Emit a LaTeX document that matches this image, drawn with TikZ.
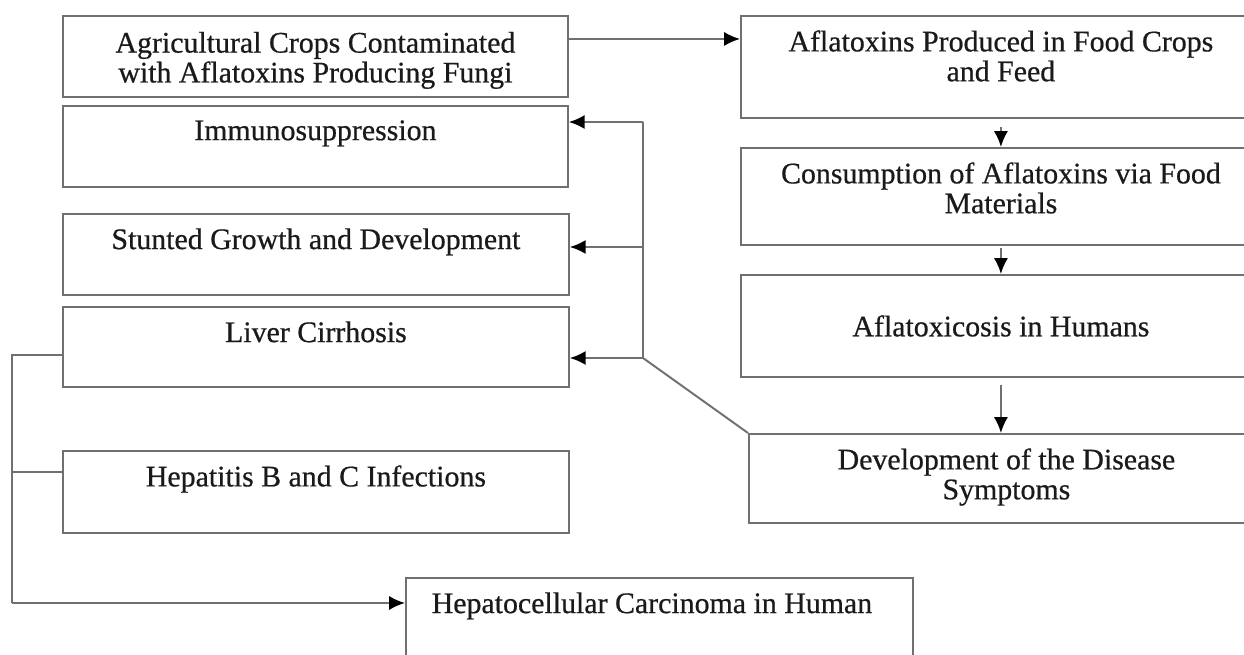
\documentclass[tikz,border=0pt]{standalone}
\usepackage{fontspec}
\setmainfont{Liberation Serif}
\newfontfamily\boxfont{Liberation Serif}[FakeBold=0.6]
\usetikzlibrary{positioning,arrows.meta}
\definecolor{edgegray}{HTML}{707070}
\definecolor{inkgray}{HTML}{1A1A1A}
\tikzset{
  box/.style={draw=edgegray, line width=1.1pt, anchor=north west, inner sep=0pt},
  txt/.style={text=inkgray, align=center, inner sep=0pt, font=\boxfont\fontsize{17}{17}\selectfont},
  link/.style={draw=edgegray, line width=1.1pt},
}
\begin{document}
\begin{tikzpicture}[x=0.02cm, y=-0.02cm, >={Latex[length=9pt,width=8pt,color=black]}]
  \useasboundingbox (0,0) rectangle (1244,655);
  \clip (0,0) rectangle (1244,655);

  % left column
  \node[box, minimum width=10.1cm, minimum height=1.62cm] (agri) at (62,15) {};
  \node[txt, below=0.33cm of agri.north] (agriT) {Agricultural Crops Contaminated\\with Aflatoxins Producing Fungi};
  \node[box, minimum width=10.1cm, minimum height=1.62cm] (immuno) at (62,105) {};
  \node[txt, below=0.3cm of immuno.north] (immunoT) {Immunosuppression};
  \node[box, minimum width=10.12cm, minimum height=1.62cm] (stunted) at (62,213) {};
  \node[txt, below=0.3cm of stunted.north] (stuntedT) {Stunted Growth and Development};
  \node[box, minimum width=10.12cm, minimum height=1.6cm] (liver) at (62,306) {};
  \node[txt, below=0.3cm of liver.north] (liverT) {Liver Cirrhosis};
  \node[box, minimum width=10.12cm, minimum height=1.64cm] (hepat) at (62,450) {};
  \node[txt, below=0.3cm of hepat.north] (hepatT) {Hepatitis B and C Infections};
  \node[box, minimum width=10.14cm, minimum height=2cm] (hcc) at (405,577) {};
  \node[txt, below=0.3cm of hcc.north, xshift=-0.15cm] (hccT) {Hepatocellular Carcinoma in Human};

  % right column
  \node[box, minimum width=10.4cm, minimum height=2.04cm] (produced) at (740,15) {};
  \node[txt, below=0.3cm of produced.north] (producedT) {Aflatoxins Produced in Food Crops\\and Feed};
  \node[box, minimum width=10.4cm, minimum height=1.94cm] (consum) at (740,147) {};
  \node[txt, below=0.3cm of consum.north] (consumT) {Consumption of Aflatoxins via Food\\Materials};
  \node[box, minimum width=10.4cm, minimum height=2.04cm] (toxicosis) at (740,274) {};
  \node[txt] (toxicosisT) at (toxicosis.center) {Aflatoxicosis in Humans};
  \node[box, minimum width=10.3cm, minimum height=1.78cm] (devel) at (748,433) {};
  \node[txt, below=0.3cm of devel.north] (develT) {Development of the Disease\\Symptoms};

  % main chain
  \draw[link,->] ([yshift=0.35cm]agri.east) -- ([yshift=0.35cm]agri.east -| produced.west);
  \draw[link,->] ([yshift=-0.16cm]produced.south) -- (consum.north);
  \draw[link,->] ([yshift=-0.04cm]consum.south) -- (toxicosis.north);
  \draw[link,->] ([yshift=-0.14cm]toxicosis.south) -- (devel.north -| toxicosis.south);

  % symptoms branch
  \coordinate (hub) at (643,358);
  \coordinate (hubtop) at (643,122);
  \coordinate (hubmid) at (643,247);
  \draw[link] (devel.north west) -- (hub) -- (hubtop);
  \draw[link,->] (hubtop) -- (immuno.east |- hubtop);
  \draw[link,->] (hubmid) -- (stunted.east |- hubmid);
  \draw[link,->] (hub) -- (liver.east |- hub);

  % liver bus
  \coordinate (busin) at (12,355);
  \coordinate (busmid) at (12,472);
  \coordinate (busend) at (12,603);
  \draw[link] (liver.west |- busin) -- (busin) -- (busend);
  \draw[link] (busmid) -- (hepat.west |- busmid);
  \draw[link,->] (busend) -- (hcc.west |- busend);
\end{tikzpicture}
\end{document}
